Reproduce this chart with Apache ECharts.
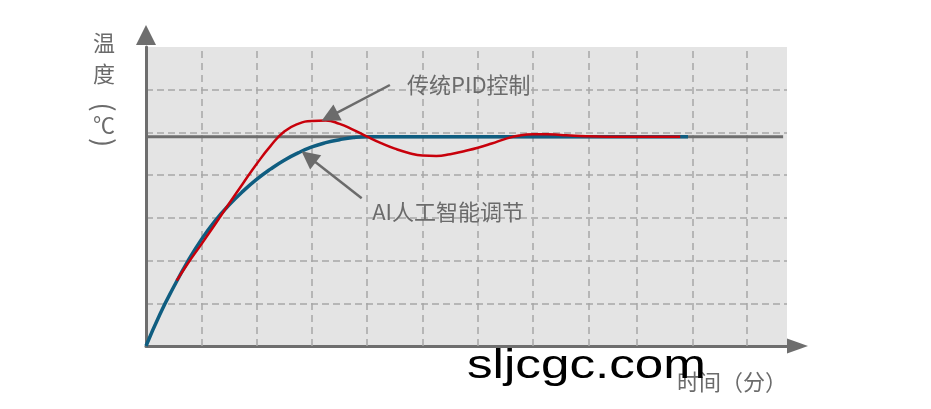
<!DOCTYPE html>
<html><head><meta charset="utf-8">
<script src="https://cdn.jsdelivr.net/npm/echarts@6/dist/echarts.min.js"></script>
<style>html,body{margin:0;padding:0;background:#fff}#c{width:931px;height:409px}</style>
</head><body><div id="c"></div>
<script>
// vertical dashed grid line positions (minutes)
const gridX = [1, 2, 3, 4, 5, 6, 7, 8, 8.88, 9.88, 10.86];
// set-point reference line
const setpointX = [0, 11.52];
const setpointY = 4.9;
// AI intelligent control curve
const aiX = [0, 0.25, 0.5, 0.75, 1.0, 1.25, 1.5, 1.75, 2.0, 2.25, 2.5, 2.75, 3.0, 3.25, 3.5, 3.75, 4.0, 4.5, 9.8];
const aiY = [0, 0.74, 1.38, 1.97, 2.49, 2.93, 3.3, 3.62, 3.9, 4.14, 4.35, 4.52, 4.66, 4.76, 4.83, 4.88, 4.9, 4.9, 4.9];
// traditional PID curve
const pidX = [0.555, 0.75, 1.0, 1.25, 1.5, 1.75, 2.0, 2.25, 2.5, 2.75, 3.0, 3.25, 3.5, 3.75, 4.0, 4.25, 4.5, 4.75, 5.0, 5.25, 5.5, 5.75, 6.0, 6.25, 6.5, 6.75, 7.0, 7.25, 7.5, 7.75, 8.0, 8.5, 9.66];
const pidY = [1.53, 1.92, 2.38, 2.85, 3.33, 3.8, 4.26, 4.68, 5.02, 5.2, 5.27, 5.28, 5.2, 5.06, 4.9, 4.75, 4.62, 4.52, 4.46, 4.45, 4.49, 4.56, 4.64, 4.74, 4.85, 4.93, 4.96, 4.96, 4.94, 4.92, 4.91, 4.9, 4.9];
// annotations: label text, label anchor, arrow tail, arrow head
const labelNames = ['传统PID控制', 'AI人工智能调节'];
const labelPos = [[4.72, 6.11], [4.09, 3.15]];
const arrowFrom = [[4.41, 6.11], [3.90, 3.46]];
const arrowTo = [[3.32, 5.37], [2.94, 4.43]];

const zip = (xs, ys) => xs.map((x, i) => [x, ys[i]]);
const GRAY = '#6b6b6b';
const CJK = '"Noto Sans CJK SC", sans-serif';

const chart = echarts.init(document.getElementById('c'));
chart.setOption({
  animation: false,
  backgroundColor: '#ffffff',
  grid: { left: 146, top: 47, width: 641, height: 299, show: true, backgroundColor: '#e4e4e4', borderWidth: 0 },
  xAxis: {
    type: 'value', min: 0, max: 11.59,
    axisLine: { show: true, symbol: ['none', 'triangle'], symbolSize: [15, 21], symbolOffset: [0, 10.5], lineStyle: { color: '#6e6e6e', width: 3 } },
    axisTick: { show: false }, axisLabel: { show: false }, splitLine: { show: false }
  },
  yAxis: {
    type: 'value', min: 0, max: 7, interval: 1,
    axisLine: { show: true, symbol: ['none', 'triangle'], symbolSize: [20, 20], symbolOffset: [0, 12], lineStyle: { color: '#6e6e6e', width: 3 } },
    axisTick: { show: false }, axisLabel: { show: false },
    splitLine: { show: true, lineStyle: { color: ['rgba(0,0,0,0)', '#a6a6a6', '#a6a6a6', '#a6a6a6', '#a6a6a6', '#a6a6a6', '#a6a6a6', 'rgba(0,0,0,0)'], width: 1.5, type: [7, 4] } }
  },
  series: [
    {
      name: 'setpoint', type: 'line', z: 2, silent: true, symbol: 'none',
      data: setpointX.map(x => [x, setpointY]),
      lineStyle: { color: '#6e6e6e', width: 3 },
      markLine: {
        silent: true, symbol: ['none', 'none'], label: { show: false }, z: 1,
        lineStyle: { color: '#a6a6a6', width: 1.5, type: [7, 5] },
        data: gridX.map(x => ({ xAxis: x }))
      }
    },
    {
      name: 'AI人工智能调节', type: 'line', z: 3, silent: true, symbol: 'none', smooth: 0.5,
      data: zip(aiX, aiY),
      lineStyle: { color: '#0f5d80', width: 3.5 }
    },
    {
      name: '传统PID控制', type: 'line', z: 4, silent: true, symbol: 'none', smooth: 0.5,
      data: zip(pidX, pidY),
      lineStyle: { color: '#c8000b', width: 2.5 }
    },
    {
      name: 'annotations', type: 'line', z: 5, silent: true, symbol: 'none', data: [],
      markLine: {
        silent: true, symbol: ['none', 'triangle'], symbolSize: 18, label: { show: false },
        lineStyle: { color: GRAY, width: 2.5, type: 'solid' },
        data: arrowFrom.map((f, i) => [{ coord: f }, { coord: arrowTo[i] }])
      },
      markPoint: {
        silent: true, symbol: 'circle', symbolSize: 0,
        label: { show: true, position: 'right', distance: 0, formatter: '{b}', fontSize: 22, color: GRAY, fontFamily: CJK },
        data: labelNames.map((n, i) => ({ name: n, coord: labelPos[i] }))
      }
    }
  ],
  graphic: [
    { type: 'text', x: 104, y: 43, style: { text: '温', font: '22px ' + CJK, fill: GRAY, textAlign: 'center', textVerticalAlign: 'middle' } },
    { type: 'text', x: 104, y: 74, style: { text: '度', font: '22px ' + CJK, fill: GRAY, textAlign: 'center', textVerticalAlign: 'middle' } },
    { type: 'text', x: 104, y: 107, rotation: -Math.PI / 2, style: { text: '(', font: '27px ' + CJK, fill: GRAY, textAlign: 'center', textVerticalAlign: 'middle' } },
    { type: 'text', x: 104, y: 125, style: { text: '℃', font: '22px ' + CJK, fill: GRAY, textAlign: 'center', textVerticalAlign: 'middle' } },
    { type: 'text', x: 104, y: 142.5, rotation: -Math.PI / 2, style: { text: ')', font: '27px ' + CJK, fill: GRAY, textAlign: 'center', textVerticalAlign: 'middle' } },
    { type: 'text', x: 732, y: 381.5, style: { text: '时间（分）', font: '22px ' + CJK, fill: GRAY, textAlign: 'center', textVerticalAlign: 'middle' } },
    { type: 'text', x: 467, y: 367, scaleX: 1.28, z: 100, style: { text: 'sljcgc.com', font: '40px "Liberation Sans", Arial, sans-serif', fill: '#000000', textAlign: 'left', textVerticalAlign: 'middle' } }
  ]
});
</script></body></html>
